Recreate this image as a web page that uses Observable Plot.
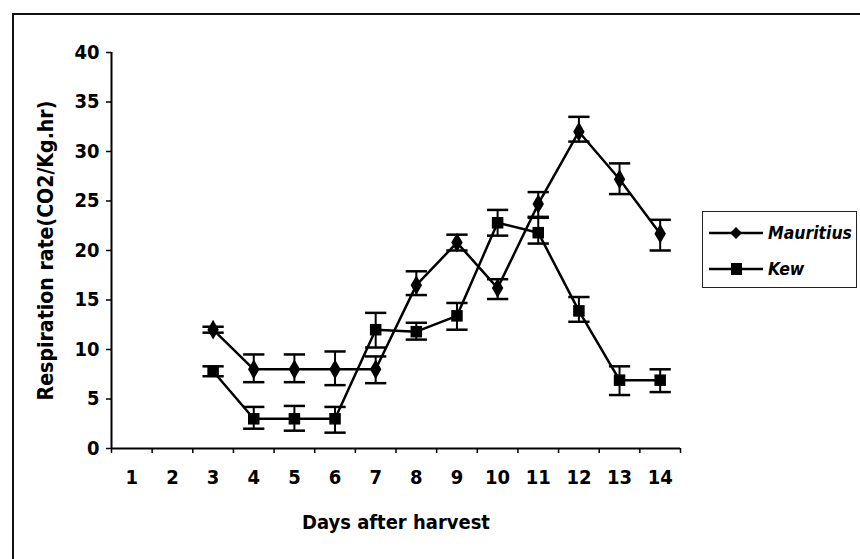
<!DOCTYPE html>
<html>
<head>
<meta charset="utf-8">
<script src="https://cdn.jsdelivr.net/npm/d3@7"></script>
<script src="https://cdn.jsdelivr.net/npm/@observablehq/plot@0.6"></script>
<style>
  html, body { margin: 0; padding: 0; background: #fff; }
  #wrap { position: relative; width: 860px; height: 559px; overflow: hidden; }
  #frame { position: absolute; left: 12px; top: 13px; width: 900px; height: 600px; border-top: 2px solid #111; border-left: 2px solid #111; }
  #legend { position: absolute; left: 702px; top: 211px; width: 153px; height: 75px; border: 1.5px solid #222; background: #fff; }
  .lg { position: absolute; left: 6px; height: 22px; display: flex; align-items: center; font-style: italic; font-weight: bold; color: #000; white-space: nowrap; }
  .lg svg { margin-right: 5px; flex: none; }
</style>
</head>
<body>
<div id="wrap">
  <div id="frame"></div>
  <div id="chart"></div>
  <div id="legend">
    <div class="lg" style="top:10px"><svg width="54" height="20"><line x1="0" y1="10" x2="54" y2="10" stroke="#000" stroke-width="2.5"/><path d="M27,4 L33,10 L27,16 L21,10 Z" fill="#000"/></svg><span id="lg1">Mauritius</span></div>
    <div class="lg" style="top:46px"><svg width="54" height="20"><line x1="0" y1="10" x2="54" y2="10" stroke="#000" stroke-width="2.5"/><rect x="22" y="4" width="11" height="12" fill="#000"/></svg><span id="lg2">Kew</span></div>
  </div>
</div>
<script>
const days = [1,2,3,4,5,6,7,8,9,10,11,12,13,14];
const mauritiusDays = [3,4,5,6,7,8,9,10,11,12,13,14];
const mauritius   = [12, 8, 8, 8, 8, 16.5, 20.8, 16.2, 24.7, 32, 27.2, 21.7];
const mauritiusHi = [12.3, 9.5, 9.5, 9.8, 9.3, 17.9, 21.6, 17.1, 25.9, 33.5, 28.8, 23.1];
const mauritiusLo = [11.7, 6.7, 6.7, 6.4, 6.6, 15.5, 20.0, 15.1, 23.4, 31.0, 25.7, 20.0];
const kewDays = [3,4,5,6,7,8,9,10,11,12,13,14];
const kew   = [7.8, 3, 3, 3, 12, 11.8, 13.4, 22.8, 21.8, 13.9, 6.9, 6.9];
const kewHi = [8.3, 4.2, 4.3, 4.2, 13.7, 12.7, 14.7, 24.1, 23.3, 15.3, 8.3, 8.0];
const kewLo = [7.3, 2.0, 1.8, 1.6, 10.2, 11.0, 12.0, 21.5, 20.7, 12.8, 5.4, 5.7];
const yTicks = [0,5,10,15,20,25,30,35,40];
const yLabel = "Respiration rate(CO2/Kg.hr)";
const xLabel = "Days after harvest";

// pick a condensed font if one is installed
const cv = document.createElement("canvas").getContext("2d");
function has(f) {
  cv.font = `bold 20px "${f}", monospace`; const a = cv.measureText("Respiration rate 0123").width;
  cv.font = `bold 20px "${f}", serif`; const b = cv.measureText("Respiration rate 0123").width;
  return a === b;
}
const candidates = ["Liberation Sans Narrow", "DejaVu Sans Condensed", "Liberation Sans"];
const F = candidates.find(has) || "Arial";
const condensed = F !== "Liberation Sans";
function fit(text, target, style) {
  cv.font = `${style} 20px "${F}"`;
  return Math.min(24, 20 * target / cv.measureText(text).width);
}
const yLabelSize = fit(yLabel, 300, "bold");
const xLabelSize = fit(xLabel, 188, "bold");
const legendSize = fit("Mauritius", 84, "italic bold");
const tickSize = condensed ? 20 : 17;

const mData = mauritiusDays.map((d,i)=>({day:d, v:mauritius[i], hi:mauritiusHi[i], lo:mauritiusLo[i]}));
const kData = kewDays.map((d,i)=>({day:d, v:kew[i], hi:kewHi[i], lo:kewLo[i]}));
const allData = mData.concat(kData);
const boundaries = d3.range(0.5, 15, 1);

const capSymbol = { draw(ctx, size) { const w = Math.sqrt(size); ctx.moveTo(-w, 0); ctx.lineTo(w, 0); } };

const chart = Plot.plot({
  width: 860,
  height: 559,
  marginLeft: 111,
  marginRight: 180,
  marginTop: 52,
  marginBottom: 111,
  style: { fontFamily: `"${F}", Arial, sans-serif`, fontSize: tickSize + "px", fontWeight: "bold", color: "#000", background: "transparent", overflow: "visible" },
  x: { domain: [0.5, 14.5] },
  y: { domain: [0, 40] },
  marks: [
    Plot.axisY({ ticks: yTicks, tickSize: 5, tickPadding: 7, tickFormat: d3.format("d"), label: yLabel, labelAnchor: "center", labelArrow: false, labelOffset: 74, stroke: "#000", strokeWidth: 1.5 }),
    Plot.axisX({ ticks: boundaries, tickSize: 5, tickFormat: () => "", label: null, stroke: "#000", strokeWidth: 1.5 }),
    Plot.axisX({ ticks: days, tickSize: 0, tickPadding: 21, tickFormat: d3.format("d"), label: xLabel, labelAnchor: "center", labelArrow: false, labelOffset: 80 }),
    Plot.ruleY([0], { stroke: "#000", strokeWidth: 2 }),
    Plot.ruleX([0.5], { stroke: "#000", strokeWidth: 2 }),
    Plot.ruleX(allData, { x: "day", y1: "lo", y2: "hi", stroke: "#000", strokeWidth: 2 }),
    Plot.dot(allData, { x: "day", y: "hi", symbol: capSymbol, r: 6, stroke: "#000", strokeWidth: 2.5, fill: "none" }),
    Plot.dot(allData, { x: "day", y: "lo", symbol: capSymbol, r: 6, stroke: "#000", strokeWidth: 2.5, fill: "none" }),
    Plot.line(mData, { x: "day", y: "v", stroke: "#000", strokeWidth: 2.5 }),
    Plot.line(kData, { x: "day", y: "v", stroke: "#000", strokeWidth: 2.5 }),
    Plot.dot(mData, { x: "day", y: "v", symbol: "diamond", r: 6, fill: "#000" }),
    Plot.dot(kData, { x: "day", y: "v", symbol: "square", r: 6.5, fill: "#000" })
  ]
});
chart.style.position = "absolute";
chart.style.left = "0px";
chart.style.top = "0px";
chart.querySelectorAll("text").forEach(t => { t.style.fontFamily = `"${F}", Arial, sans-serif`; t.style.fontWeight = "bold"; t.style.fontSize = tickSize + "px"; });
chart.querySelectorAll('[aria-label="y-axis label"] text').forEach(t => t.style.fontSize = yLabelSize + "px");
chart.querySelectorAll('[aria-label="x-axis label"] text').forEach(t => t.style.fontSize = xLabelSize + "px");
document.getElementById("chart").appendChild(chart);
document.querySelectorAll(".lg span").forEach(s => { s.style.fontFamily = `"${F}", Arial, sans-serif`; s.style.fontSize = legendSize + "px"; });
</script>
</body>
</html>
